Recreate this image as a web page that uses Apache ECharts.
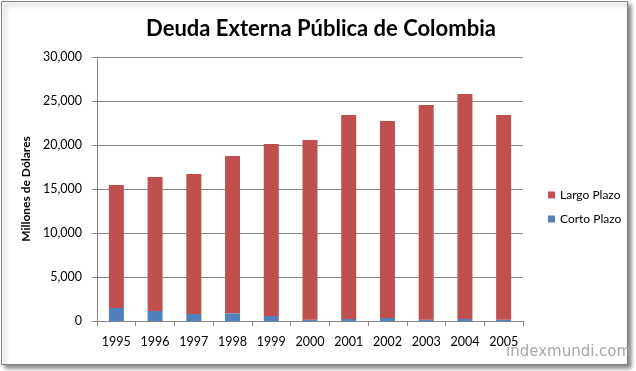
<!DOCTYPE html>
<html><head><meta charset="utf-8">
<script src="https://cdn.jsdelivr.net/npm/echarts@6/dist/echarts.min.js"></script>
<style>html,body{margin:0;padding:0;background:#fff}#c{width:636px;height:371px}</style>
</head><body><div id="c"></div>
<script>
const years = ['1995','1996','1997','1998','1999','2000','2001','2002','2003','2004','2005'];
const totalDebt = [15450, 16360, 16700, 18750, 20110, 20570, 23400, 22730, 24550, 25800, 23400];
const cortoPlazo = [1480, 1140, 800, 870, 570, 150, 230, 340, 150, 230, 150];
const largoPlazo = totalDebt.map((t, i) => t - cortoPlazo[i]);
const yTicks = { min: 0, max: 30000, interval: 5000 };

const chart = echarts.init(document.getElementById('c'));
const font = 'Lato, "Open Sans", sans-serif';
chart.setOption({
  animation: false,
  backgroundColor: '#fff',
  title: {
    text: 'Deuda Externa Pública de Colombia',
    left: 316, top: 13, textAlign: 'center',
    textStyle: { fontFamily: font, fontSize: 22, fontWeight: 'bold', color: '#000' }
  },
  legend: {
    orient: 'vertical', left: 543, top: 184, itemGap: 12,
    itemWidth: 7, itemHeight: 7, icon: 'rect',
    textStyle: { fontFamily: font, fontSize: 12, color: '#000' },
    data: ['Largo Plazo', 'Corto Plazo']
  },
  grid: { left: 97, right: 113, top: 57, bottom: 50 },
  xAxis: {
    type: 'category', data: years,
    axisLine: { lineStyle: { color: '#868686' } },
    axisTick: { show: true, alignWithLabel: false, length: 5, lineStyle: { color: '#868686' } },
    axisLabel: { fontFamily: font, fontSize: 12.5, color: '#000', margin: 14 }
  },
  yAxis: {
    type: 'value', min: yTicks.min, max: yTicks.max, interval: yTicks.interval,
    name: 'Millones de Dólares', nameLocation: 'middle', nameGap: 62,
    nameTextStyle: { fontFamily: font, fontSize: 12, fontWeight: 'bold', color: '#000' },
    axisLine: { show: true, lineStyle: { color: '#868686' } },
    axisTick: { show: true, length: 5, lineStyle: { color: '#868686' } },
    axisLabel: { fontFamily: font, fontSize: 12.5, color: '#000', margin: 15,
      formatter: v => v.toLocaleString('en-US') },
    splitLine: { lineStyle: { color: '#868686' } }
  },
  series: [
    { name: 'Corto Plazo', type: 'bar', stack: 'd', data: cortoPlazo, barWidth: 15,
      itemStyle: { color: '#4F81BD' } },
    { name: 'Largo Plazo', type: 'bar', stack: 'd', data: largoPlazo, barWidth: 15,
      itemStyle: { color: '#C0504D' } }
  ],
  graphic: [
    { type: 'rect', z: -10, shape: { x: 1.5, y: 1.5, width: 626, height: 363 },
      style: { fill: '#fff', stroke: '#808080', lineWidth: 1,
        shadowColor: 'rgba(0,0,0,0.45)', shadowBlur: 4, shadowOffsetX: 3, shadowOffsetY: 3 } },
    { type: 'text', left: 506, top: 345, z: 10,
      style: { text: 'indexmundi.com', fontFamily: 'Verdana, "DejaVu Sans", sans-serif',
        fontSize: 15, fill: '#a6a6a6' } }
  ]
});
</script></body></html>
